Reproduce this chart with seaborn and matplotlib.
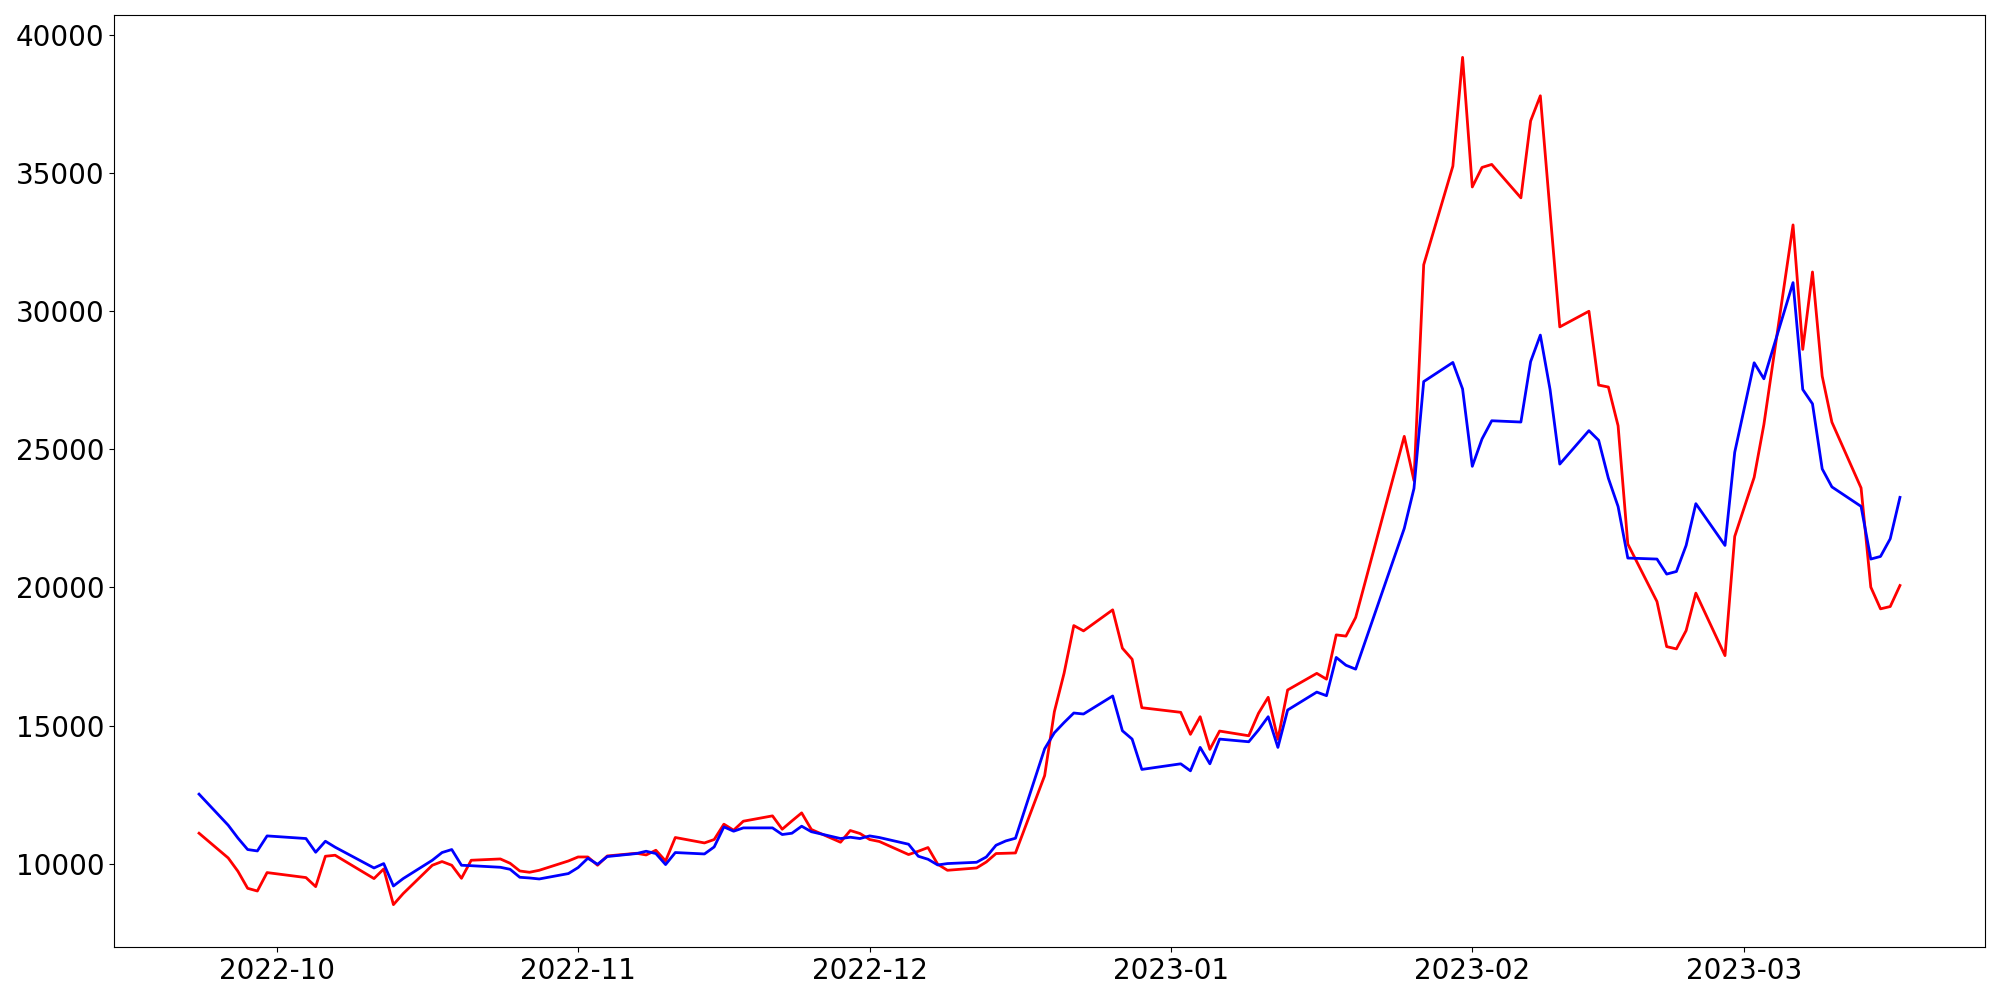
import matplotlib
matplotlib.use("Agg")
import matplotlib.pyplot as plt
import matplotlib.dates as mdates
import seaborn as sns
import pandas as pd

# trading days (weekdays without the market holidays)
holidays = ["2022-10-03", "2022-10-10", "2022-12-30",
            "2023-01-23", "2023-01-24", "2023-03-01"]
dates = pd.bdate_range("2022-09-23", "2023-03-17", freq="C", holidays=holidays)

red_values = [
    11105, 10210, 9728, 9112, 9014, 9681,
    9500, 9173, 10272, 10308, 9464, 9812, 8521, 8920, 9946, 10080, 9946, 9474, 10127,
    10174, 10018, 9739, 9692, 9764, 10101,
    10246, 10246, 9946, 10283, 10380, 10319, 10489, 10101, 10950, 10754, 10877, 11432,
    11214, 11540, 11733, 11250, 11550, 11841, 11240, 10779, 11203, 11095,
    10877, 10805, 10333, 10453, 10587, 9982, 9764, 9848, 10065, 10370, 10380, 10391,
    13190, 15502, 16894, 18619, 18427, 19188, 17800, 17401, 15647,
    15480, 14683, 15321, 14139, 14802, 14632, 15444, 16024, 14502, 16288,
    16890, 16680, 18282, 18238, 18912, 25466, 23864, 31674, 35244, 39180,
    34490, 35197, 35306, 34096, 36880, 37790, 33600, 29427, 29993, 27321, 27250,
    25850, 21570, 19489, 17858, 17775, 18438, 19794, 17532, 21845,
    23983, 25893, 33117, 28612, 31414, 27644, 25977, 23599, 20011, 19224, 19308, 20069,
]

blue_values = [
    12519, 11395, 10930, 10515, 10464, 11008,
    10913, 10417, 10815, 10600, 9848, 10007, 9195, 9463, 10127, 10406, 10515, 9946, 9930,
    9873, 9800, 9511, 9486, 9450, 9645,
    9862, 10199, 9982, 10261, 10370, 10453, 10370, 9971, 10406, 10355, 10609, 11334,
    11178, 11298, 11298, 11058, 11105, 11359, 11160, 10913, 10960, 10913,
    11008, 10949, 10707, 10272, 10163, 9957, 10007, 10054, 10246, 10670, 10826, 10924,
    14160, 14740, 15110, 15455, 15419, 16071, 14813, 14512, 13414,
    13617, 13363, 14211, 13617, 14512, 14415, 14839, 15321, 14211, 15563,
    16212, 16082, 17466, 17184, 17042, 22135, 23581, 27448, 28140, 27180,
    24382, 25372, 26031, 25984, 28169, 29130, 27162, 24462, 25673, 25324, 23950,
    22927, 21062, 21026, 20482, 20576, 21519, 23030, 21519, 24890,
    28129, 27549, 31029, 27162, 26644, 24288, 23636, 22932, 21026, 21120, 21761, 23258,
]

fig, ax = plt.subplots(figsize=(20, 10), dpi=100)

sns.lineplot(x=dates, y=red_values, color="red", linewidth=2, ax=ax)
sns.lineplot(x=dates, y=blue_values, color="blue", linewidth=2, ax=ax)

# month ticks like the default date formatter
ax.xaxis.set_major_locator(mdates.MonthLocator())
ax.xaxis.set_major_formatter(mdates.DateFormatter("%Y-%m"))
ax.tick_params(axis="both", labelsize=20)
ax.set_xlabel("")
ax.set_ylabel("")

fig.subplots_adjust(left=0.057, right=0.9925, top=0.985, bottom=0.053)
fig.savefig("out.png", dpi=100)
